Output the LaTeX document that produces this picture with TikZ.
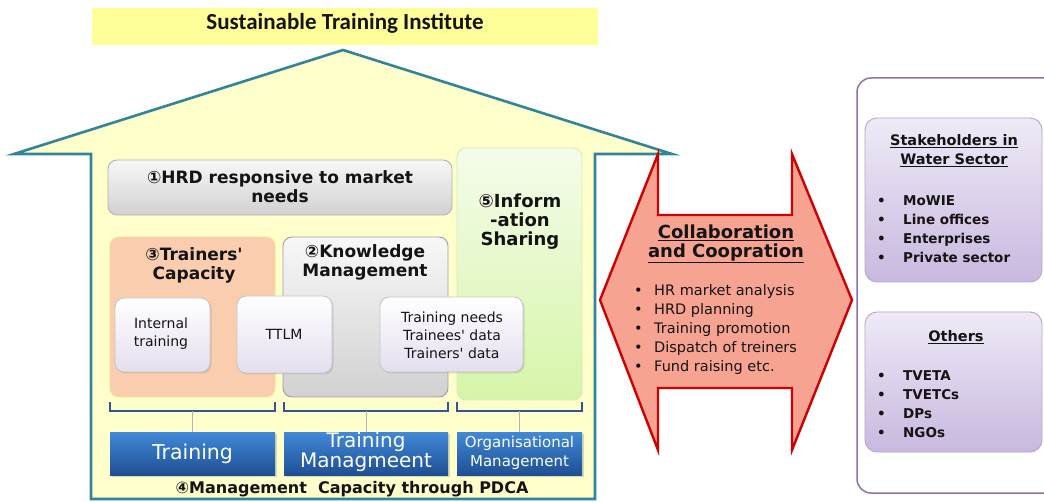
\documentclass[tikz,border=0pt]{standalone}
\usepackage{fontspec}
\setmainfont{DejaVu Sans}
\newfontfamily\titlefont{Carlito}
\usetikzlibrary{shadows,fit}

\definecolor{roofline}{HTML}{31849B}
\definecolor{roofbg}{HTML}{FFFFCC}
\definecolor{bannerbg}{HTML}{FFFF99}
\definecolor{peach}{HTML}{F9CDAE}
\definecolor{peachline}{HTML}{F6E08A}
\definecolor{greentop}{HTML}{F4FCEA}
\definecolor{greenbot}{HTML}{D6F5A8}
\definecolor{greenline}{HTML}{D4EAB8}
\definecolor{lilac}{HTML}{E4DEEE}
\definecolor{bluetop}{HTML}{4189D8}
\definecolor{bluebot}{HTML}{1F4F94}
\definecolor{bracketblue}{HTML}{2F5597}
\definecolor{arrowfill}{HTML}{F7A392}
\definecolor{arrowline}{HTML}{D00000}
\definecolor{panelline}{HTML}{8A72AE}
\definecolor{purpletop}{HTML}{EFEAF6}
\definecolor{purplebot}{HTML}{C8B8DF}
\definecolor{purpleline}{HTML}{B4A6CE}
\definecolor{ink}{HTML}{141414}

\newcommand\bitem[1]{\makebox[20pt][l]{•}#1}
\newcommand\ritem[1]{\makebox[26pt][l]{•}#1}
\newcommand\apos{\textquotesingle}

\tikzset{
  shape box/.style={rounded corners=9pt, inner sep=0pt, line width=0.9pt},
  graybox/.style={shape box, top color=gray!6, bottom color=gray!36, draw=gray!60},
  smallbox/.style={shape box, top color=white, bottom color=lilac, draw=gray!45,
    drop shadow={opacity=0.25, shadow xshift=1.5pt, shadow yshift=-1.5pt}},
  bluebox/.style={inner sep=0pt, top color=bluetop, bottom color=bluebot, draw=none,
    drop shadow={opacity=0.3, shadow xshift=1.5pt, shadow yshift=-1.5pt},
    text=white, align=center},
  purplebox/.style={shape box, rounded corners=12pt, top color=purpletop, bottom color=purplebot, draw=purpleline},
  heading/.style={font=\bfseries\fontsize{17}{19}\selectfont, align=center, inner sep=0pt, text=ink},
  plain/.style={font=\fontsize{14}{18}\selectfont, align=center, inner sep=0pt, text=ink},
  bracket/.style={draw=bracketblue, line width=1.6pt},
  tick/.style={draw=gray!60, line width=1pt},
}

\begin{document}
\begin{tikzpicture}[x=1pt,y=-1pt]
\useasboundingbox (0,0) rectangle (1044,502);

% title banner
\node[fill=bannerbg, inner sep=0pt, fit={(92,8) (598,45)}] (banner) {};
\node[inner sep=0pt, font=\titlefont\bfseries\fontsize{23}{25}\selectfont, text=ink] (title) at (345,23) {Sustainable Training Institute};

% house outline
\draw[roofline, fill=roofbg, line width=2.6pt, line join=miter]
  (14,154) -- (343,50) -- (672,154) -- (595,154) -- (595,499) -- (91,499) -- (91,154) -- cycle;

% upper row
\node[graybox, fit={(108,160) (452,215)}] (hrd) {};
\node[heading] (hrdtext) at (280,187) {①HRD responsive to market\\needs};

\node[shape box, top color=greentop, bottom color=greenbot, draw=greenline, fit={(457,148) (582,400)}] (info) {};
\node[heading, font=\bfseries\fontsize{18}{19}\selectfont] (infotext) at (520,222) {⑤Inform\\-ation\\Sharing};

% columns
\node[shape box, fill=peach, draw=peachline, fit={(110,237) (275,397)}] (trainers) {};
\node[heading] (trainerstext) at (194,265) {③Trainers\apos\\Capacity};

\node[graybox, draw=gray!75, fit={(283,237) (448,397)}] (knowledge) {};
\node[heading] (knowledgetext) at (365,262) {②Knowledge\\Management};

% inner items
\node[smallbox, fit={(115,298) (210,372)}] (internal) {};
\node[plain] (internaltext) at (161,334) {Internal\\training};
\node[smallbox, fit={(237,296) (332,373)}] (ttlm) {};
\node[plain] (ttlmtext) at (284,334) {TTLM};
\node[smallbox, fit={(380,297) (523,372)}] (data) {};
\node[plain] (datatext) at (452,335) {Training needs\\Trainees\apos\ data\\Trainers\apos\ data};

% brackets under the columns
\draw[bracket] (110,402) -- (110,411) -- (275,411) -- (275,402);
\draw[bracket] (284,402) -- (284,411) -- (448,411) -- (448,402);
\draw[bracket] (457,402) -- (457,411) -- (582,411) -- (582,402);
\coordinate (b1) at (192.5,411);
\coordinate (b2) at (366,411);
\coordinate (b3) at (519.5,411);

% functions
\node[bluebox, fit={(110,432) (275,475)}] (fn1) {};
\node[inner sep=0pt, text=white, font=\fontsize{20.5}{22}\selectfont] (fn1text) at (fn1.center) {Training};
\node[bluebox, fit={(284,432) (448,475)}] (fn2) {};
\node[inner sep=0pt, text=white, align=center, font=\fontsize{20}{18.5}\selectfont] (fn2text) at (366,452) {Training\\Managmeent};
\node[bluebox, fit={(457,432) (582,475)}] (fn3) {};
\node[inner sep=0pt, text=white, align=center, font=\fontsize{15}{19}\selectfont] (fn3text) at (519.5,453) {Organisational\\Management};

\draw[tick] (b1) -- (fn1.north);
\draw[tick] (b2) -- (fn2.north);
\draw[tick] (b3) -- (fn3.north);

\node[heading, font=\bfseries\fontsize{16}{18}\selectfont] (pdca) at (352,489) {④Management\ \ Capacity through PDCA};

% two-way arrow
\draw[arrowline, fill=arrowfill, line width=2.4pt, line join=miter]
  (658,154) -- (658,215) -- (792,215) -- (792,154) -- (852,300) -- (792,450)
  -- (792,388) -- (658,388) -- (658,450) -- (600,300) -- cycle;
\node[heading, font=\bfseries\fontsize{18}{18.5}\selectfont] (collab) at (726,244)
  {\underline{Collaboration}\\\underline{and Coopration}};
\node[inner sep=0pt, anchor=west, align=left, text=ink, font=\fontsize{14.5}{19}\selectfont] (collablist) at (634,330)
  {\bitem{HR market analysis}\\\bitem{HRD planning}\\\bitem{Training promotion}\\\bitem{Dispatch of treiners}\\\bitem{Fund raising etc.}};

% partner panel
\draw[panelline, line width=1.5pt, fill=white, rounded corners=14pt] (1080,78) -- (857,78) -- (857,493) -- (1080,493);
\node[purplebox, fit={(865,118) (1042,282)}] (water) {};
\node[heading, font=\bfseries\fontsize{14.5}{19}\selectfont] (watertitle) at (954,151) {\underline{Stakeholders in}\\\underline{Water Sector}};
\node[inner sep=0pt, anchor=west, align=left, text=ink, font=\bfseries\fontsize{13.5}{19}\selectfont] (waterlist) at (877,229)
  {\ritem{MoWIE}\\\ritem{Line offices}\\\ritem{Enterprises}\\\ritem{Private sector}};

\node[purplebox, fit={(865,312) (1042,452)}] (others) {};
\node[heading, font=\bfseries\fontsize{14.5}{19}\selectfont] (otherstitle) at (956,337) {\underline{Others}};
\node[inner sep=0pt, anchor=west, align=left, text=ink, font=\bfseries\fontsize{13.5}{19}\selectfont] (otherslist) at (877,404)
  {\ritem{TVETA}\\\ritem{TVETCs}\\\ritem{DPs}\\\ritem{NGOs}};
\end{tikzpicture}
\end{document}
